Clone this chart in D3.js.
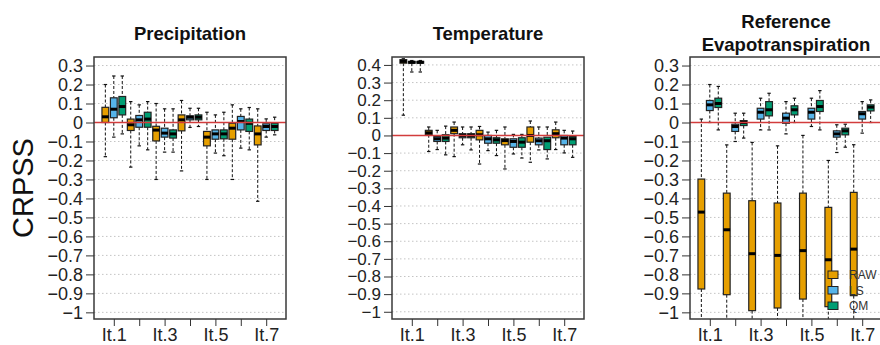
<!DOCTYPE html>
<html lang="en">
<head>
    <meta charset="UTF-8">
    <title>CRPSS boxplots</title>
    <script src="https://d3js.org/d3.v7.min.js"></script>
    <style>
        body { margin: 0; background: #fff; }
        text { font-family: "Liberation Sans", Arial, sans-serif; }
    </style>
</head>
<body>
    <div id="chart"></div>
</body>
</html>

<script>
// lead times and methods
var leadTimes = ["It.1", "It.2", "It.3", "It.4", "It.5", "It.6", "It.7"];
var methods = ["RAW", "LS", "QM"];
var methodColors = ["#E69F00", "#56B4E9", "#009E73"];

// y tick values
var ticksShort = [0.3, 0.2, 0.1, 0, -0.1, -0.2, -0.3, -0.4, -0.5, -0.6, -0.7, -0.8, -0.9, -1];
var ticksTemp = [0.4, 0.3, 0.2, 0.1, 0, -0.1, -0.2, -0.3, -0.4, -0.5, -0.6, -0.7, -0.8, -0.9, -1];

// [lower whisker, q1, median, q3, upper whisker] per lead time
var precipRAW = [[-0.18, 0.0, 0.03, 0.08, 0.2], [-0.235, -0.042, -0.012, 0.018, 0.11], [-0.3, -0.097, -0.04, -0.02, 0.10],
    [-0.255, -0.044, 0.014, 0.04, 0.116], [-0.3, -0.123, -0.077, -0.047, 0.054], [-0.3, -0.088, -0.03, -0.004, 0.093],
    [-0.415, -0.118, -0.06, -0.018, 0.072]];
var precipLS = [[-0.077, 0.025, 0.07, 0.13, 0.245], [-0.123, -0.025, 0.014, 0.037, 0.093], [-0.156, -0.077, -0.056, -0.03, 0.072],
    [-0.026, 0.014, 0.028, 0.035, 0.075], [-0.161, -0.088, -0.06, -0.039, 0.04], [-0.135, -0.039, 0.005, 0.032, 0.072],
    [-0.077, -0.042, -0.021, -0.007, 0.019]];
var precipQM = [[-0.06, 0.04, 0.084, 0.137, 0.245], [-0.144, -0.025, 0.018, 0.054, 0.11], [-0.156, -0.082, -0.06, -0.039, 0.072],
    [-0.021, 0.014, 0.028, 0.04, 0.075], [-0.175, -0.086, -0.06, -0.039, 0.054], [-0.144, -0.047, -0.004, 0.018, 0.079],
    [-0.065, -0.042, -0.021, -0.004, 0.028]];

var tempRAW = [[0.115, 0.41, 0.42, 0.43, 0.435], [-0.091, 0.004, 0.015, 0.029, 0.048], [-0.12, 0.01, 0.029, 0.048, 0.076],
    [-0.162, -0.025, 0.004, 0.029, 0.051], [-0.19, -0.053, -0.029, -0.019, 0.048], [-0.152, -0.038, 0.0, 0.048, 0.082],
    [-0.08, -0.013, 0.01, 0.032, 0.076]];
var tempLS = [[0.36, 0.41, 0.415, 0.42, 0.425], [-0.08, -0.034, -0.019, -0.006, 0.029], [-0.053, -0.013, 0.0, 0.01, 0.048],
    [-0.086, -0.044, -0.019, 0.0, 0.019], [-0.105, -0.067, -0.034, -0.019, 0.006], [-0.082, -0.053, -0.03, -0.015, 0.048],
    [-0.099, -0.053, -0.015, 0.0, 0.029]];
var tempQM = [[0.36, 0.41, 0.415, 0.42, 0.425], [-0.11, -0.034, -0.015, 0.004, 0.053], [-0.082, -0.013, 0.0, 0.01, 0.048],
    [-0.114, -0.044, -0.025, -0.013, 0.029], [-0.128, -0.067, -0.038, -0.013, 0.006], [-0.133, -0.08, -0.03, -0.01, 0.048],
    [-0.124, -0.053, -0.019, -0.006, 0.025]];

var etRAW = [[-1.1, -0.877, -0.472, -0.298, 0.018], [-1.1, -0.907, -0.565, -0.372, -0.118], [-1.1, -0.991, -0.691, -0.412, -0.105],
    [-1.1, -0.977, -0.70, -0.424, -0.123], [-1.1, -0.93, -0.675, -0.372, -0.068], [-1.1, -0.97, -0.723, -0.447, -0.2],
    [-1.1, -0.912, -0.667, -0.368, -0.117]];
var etLS = [[0.0, 0.063, 0.093, 0.116, 0.2], [-0.1, -0.047, -0.021, -0.009, 0.049], [-0.039, 0.018, 0.054, 0.075, 0.128],
    [-0.06, -0.004, 0.023, 0.049, 0.11], [-0.021, 0.018, 0.054, 0.075, 0.128], [-0.158, -0.077, -0.06, -0.044, -0.012],
    [-0.056, 0.018, 0.046, 0.058, 0.11]];
var etQM = [[-0.039, 0.079, 0.10, 0.128, 0.19], [-0.082, -0.016, 0.0, 0.01, 0.049], [-0.039, 0.035, 0.067, 0.11, 0.154],
    [0.0, 0.04, 0.067, 0.088, 0.128], [-0.039, 0.058, 0.084, 0.116, 0.168], [-0.13, -0.065, -0.044, -0.03, -0.009],
    [0.0, 0.061, 0.081, 0.093, 0.119]];

var panels = [
    {title: ["Precipitation"], left: 94, ylim: [-1.035, 0.345], ticks: ticksShort, tickFont: 18, series: [precipRAW, precipLS, precipQM]},
    {title: ["Temperature"], left: 392, ylim: [-1.041, 0.445], ticks: ticksTemp, tickFont: 17, series: [tempRAW, tempLS, tempQM]},
    {title: ["Reference", "Evapotranspiration"], left: 690, ylim: [-1.035, 0.345], ticks: ticksShort, tickFont: 18, series: [etRAW, etLS, etQM], legend: true}
];

var width = 880, height = 345,
    plotTop = 57, plotBottom = 319, plotW = 192;

var svg = d3.select("#chart")
    .append("svg")
        .attr("width", width)
        .attr("height", height);

var fmt = function(d) { return String(Math.round(d * 10) / 10).replace("-", "\u2212"); };

// y label
svg.append("text")
    .attr("transform", "translate(33," + 188 + ") rotate(-90)")
    .attr("text-anchor", "middle")
    .attr("font-size", 29)
    .attr("fill", "#111")
    .text("CRPSS");

panels.forEach(function(p, pi) {
    var g = svg.append("g");

    var x = d3.scaleLinear()
        .domain([-0.34, 22.34])
        .range([p.left, p.left + plotW]);

    var y = d3.scaleLinear()
        .domain(p.ylim)
        .range([plotBottom, plotTop]);

    var boxW = (x(1) - x(0)) * 0.8;

    g.append("clipPath")
        .attr("id", "clip" + pi)
      .append("rect")
        .attr("x", p.left).attr("y", plotTop)
        .attr("width", plotW).attr("height", plotBottom - plotTop);

    // dotted grid
    g.selectAll(".grid")
        .data(p.ticks)
        .enter()
        .append("line")
        .attr("x1", p.left).attr("x2", p.left + plotW)
        .attr("y1", function(d) { return y(d); })
        .attr("y2", function(d) { return y(d); })
        .attr("stroke", "#c4c4c4")
        .attr("stroke-width", 1)
        .attr("stroke-dasharray", "1.5,2.5");

    // flatten boxes
    var boxes = [];
    leadTimes.forEach(function(lt, li) {
        methods.forEach(function(m, mi) {
            var s = p.series[mi][li];
            boxes.push({pos: li * 3 + mi + 1, method: mi, lo: s[0], q1: s[1], med: s[2], q3: s[3], hi: s[4]});
        });
    });

    var bg = g.append("g").attr("clip-path", "url(#clip" + pi + ")");
    var b = bg.selectAll(".box")
        .data(boxes)
        .enter()
        .append("g");

    // whiskers
    b.append("line")
        .attr("x1", function(d) { return x(d.pos); })
        .attr("x2", function(d) { return x(d.pos); })
        .attr("y1", function(d) { return y(d.hi); })
        .attr("y2", function(d) { return y(d.q3); })
        .attr("stroke", "#111").attr("stroke-dasharray", "3,2");
    b.append("line")
        .attr("x1", function(d) { return x(d.pos); })
        .attr("x2", function(d) { return x(d.pos); })
        .attr("y1", function(d) { return y(d.q1); })
        .attr("y2", function(d) { return y(d.lo); })
        .attr("stroke", "#111").attr("stroke-dasharray", "3,2");
    // staples
    ["hi", "lo"].forEach(function(k) {
        b.append("line")
            .attr("x1", function(d) { return x(d.pos) - boxW / 4; })
            .attr("x2", function(d) { return x(d.pos) + boxW / 4; })
            .attr("y1", function(d) { return y(d[k]); })
            .attr("y2", function(d) { return y(d[k]); })
            .attr("stroke", "#111").attr("stroke-width", 1.2);
    });
    // box
    b.append("rect")
        .attr("x", function(d) { return x(d.pos) - boxW / 2; })
        .attr("y", function(d) { return y(d.q3); })
        .attr("width", boxW)
        .attr("height", function(d) { return Math.max(0.5, y(d.q1) - y(d.q3)); })
        .attr("fill", function(d) { return methodColors[d.method]; })
        .attr("stroke", "#222")
        .attr("stroke-width", 1.2);
    // median
    b.append("line")
        .attr("x1", function(d) { return x(d.pos) - boxW / 2; })
        .attr("x2", function(d) { return x(d.pos) + boxW / 2; })
        .attr("y1", function(d) { return y(d.med); })
        .attr("y2", function(d) { return y(d.med); })
        .attr("stroke", "#000").attr("stroke-width", 3);

    // zero line
    g.append("line")
        .attr("x1", p.left).attr("x2", p.left + plotW)
        .attr("y1", y(0)).attr("y2", y(0))
        .attr("stroke", "#d23c3c")
        .attr("stroke-width", 1.5);

    // legend
    if (p.legend) {
        var lg = g.selectAll(".leg")
            .data(methods)
            .enter()
            .append("g")
            .attr("transform", function(d, i) { return "translate(" + (p.left + 138) + "," + (271 + i * 15.5) + ")"; });
        lg.append("rect")
            .attr("width", 10).attr("height", 7.5)
            .attr("fill", function(d, i) { return methodColors[i]; })
            .attr("stroke", "#222");
        lg.append("text")
            .attr("x", 21).attr("y", 4).attr("dy", "0.35em")
            .attr("font-size", 12)
            .attr("fill", "#333")
            .text(function(d) { return d; });
    }

    // frame
    g.append("rect")
        .attr("x", p.left).attr("y", plotTop)
        .attr("width", plotW).attr("height", plotBottom - plotTop)
        .attr("fill", "none")
        .attr("stroke", "#3a3a3a")
        .attr("stroke-width", 1.5);

    // y axis
    var ya = g.append("g")
        .attr("transform", "translate(" + p.left + ",0)")
        .call(d3.axisLeft(y).tickValues(p.ticks).tickFormat(fmt).tickSize(8).tickPadding(3));
    ya.select(".domain").remove();
    ya.selectAll("text").attr("font-size", p.tickFont).attr("fill", "#222").attr("font-family", "Liberation Sans, Arial, sans-serif");
    ya.selectAll("line").attr("stroke", "#333");

    // x axis
    var xa = g.append("g")
        .attr("transform", "translate(0," + plotBottom + ")")
        .call(d3.axisBottom(x)
            .tickValues(leadTimes.map(function(d, i) { return i * 3 + 2; }))
            .tickFormat(function(d, i) { return i % 2 === 0 ? leadTimes[i] : ""; })
            .tickSize(7).tickPadding(2));
    xa.select(".domain").remove();
    xa.selectAll("text").attr("font-size", 18).attr("fill", "#222").attr("font-family", "Liberation Sans, Arial, sans-serif");
    xa.selectAll("line").attr("stroke", "#333");

    // title
    var cx = p.left + plotW / 2;
    var lines = p.title;
    var baseY = lines.length === 1 ? 40 : 28;
    lines.forEach(function(t, ti) {
        svg.append("text")
            .attr("x", cx)
            .attr("y", baseY + ti * 23)
            .attr("text-anchor", "middle")
            .attr("font-size", 18.5)
            .attr("font-weight", "bold")
            .attr("fill", "#111")
            .text(t);
    });
});
</script>
